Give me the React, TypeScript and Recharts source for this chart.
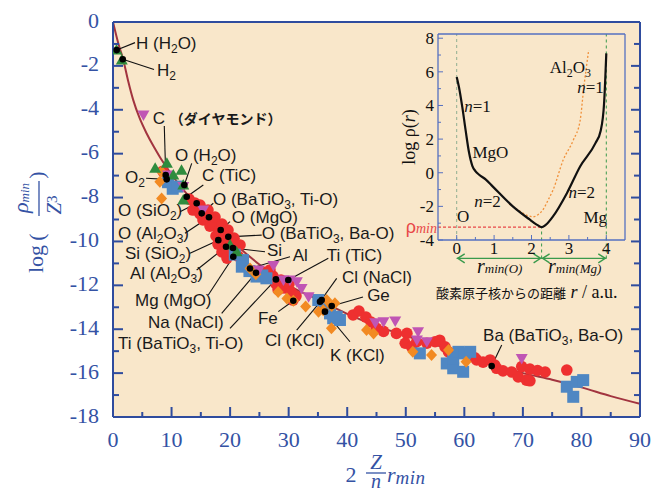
import React from 'react';
import {
  ComposedChart,
  Scatter,
  Line,
  XAxis,
  YAxis,
  CartesianGrid,
  ReferenceLine,
  Customized,
} from 'recharts';

// ---------- style constants ----------
const BLUE = '#3452a4';
const AXIS_BLUE = '#2f4c9e';
const INSET_BLUE = '#5570c0';
const BG = '#f9e7ca';
const RED = '#ee3030';
const SQ_BLUE = '#4f87c3';
const ORANGE = '#f28a22';
const MAGENTA = '#c055b4';
const GREEN = '#2f8c3e';
const ARROW_GREEN = '#3a9a4c';
const CURVE = '#a2343f';
const SERIF = '"Liberation Serif", "Times New Roman", serif';
const SANS = '"Liberation Sans", Arial, Helvetica, sans-serif';
const CJK = '"Noto Sans CJK JP", "Noto Sans CJK SC", sans-serif';

// ---------- main chart data ----------
const xTicks = [0, 5, 10, 15, 20, 25, 30, 35, 40, 45, 50, 55, 60, 65, 70, 75, 80, 85, 90];
const yTicks = [0, -1, -2, -3, -4, -5, -6, -7, -8, -9, -10, -11, -12, -13, -14, -15, -16, -17, -18];

const fitCurve: [number, number][] = [
  [0, 0], [0.9, -0.97], [1.76, -1.73], [2.6, -2.7], [3.46, -3.56], [4.5, -4.35], [5.75, -5.08],
  [7, -5.7], [8, -6.15], [9.1, -6.6], [10, -6.95], [12.5, -7.8], [15, -8.55], [17.5, -9.25],
  [20, -9.9], [22.5, -10.5], [25, -11.05], [27.5, -11.55], [30, -12.0], [35, -12.65],
  [40, -13.3], [45, -13.85], [50, -14.3], [55, -14.7], [60, -15.15], [65, -15.6], [70, -16.0],
  [75, -16.3], [80, -16.65], [85, -17.05], [90, -17.4],
];

const redCircles: [number, number][] = [
  [8.5, -6.8],
  [13.0, -8.07], [13.66, -8.57], [14.0, -8.25], [14.86, -8.34], [14.86, -8.75], [15.37, -9.02],
  [16.05, -8.98], [16.22, -8.57], [16.56, -9.3], [17.08, -9.25], [17.42, -8.89], [17.59, -9.75],
  [18.1, -9.53], [18.44, -9.94], [18.61, -9.21], [18.95, -9.8], [17.93, -10.12], [18.61, -10.48],
  [19.3, -10.35], [19.47, -10.76], [19.64, -9.48], [19.81, -10.07], [20.32, -10.48], [20.66, -9.85],
  [21.35, -10.67], [21.69, -10.16],
  [25.6, -11.39], [26.47, -11.67], [26.8, -11.3], [27.32, -11.58], [27.83, -11.94], [28.2, -12.2],
  [28.69, -11.76], [29.2, -12.12], [30.05, -11.94], [30.4, -12.31], [30.74, -12.67], [31.25, -12.49],
  [41.0, -13.35], [42.0, -13.17], [43.2, -13.45], [44.06, -13.67], [45.0, -13.96], [46.2, -14.1],
  [48.4, -14.19], [50.2, -14.19], [49.9, -14.64], [51.0, -14.8], [51.86, -14.57], [53.6, -14.64],
  [55.0, -14.57], [55.8, -14.5], [56.7, -14.8], [57.3, -15.03], [61.8, -15.3], [62.1, -15.4],
  [63.2, -15.5], [64.4, -15.4], [65.2, -15.63], [65.5, -15.78], [66.6, -15.9], [68.1, -15.95],
  [69.2, -16.17], [70.6, -16.32], [71.2, -16.35], [69.8, -15.7], [71.2, -15.82], [72.5, -15.88],
  [73.8, -15.95], [77.5, -15.86],
];

const blueSquares: [number, number][] = [
  [9.4, -7.3], [10.2, -7.6], [11.0, -7.5],
  [20.8, -10.6], [22.2, -10.85], [22.0, -11.15], [23.3, -11.35], [24.5, -11.6], [25.5, -11.55], [26.2, -11.68],
  [35.06, -12.67], [35.9, -12.98], [37.06, -13.28], [38.2, -13.43], [38.76, -13.58], [37.6, -13.5],
  [52.4, -15.1], [57.0, -15.56], [58.1, -15.78], [59.8, -15.94], [58.1, -15.33], [59.0, -15.03],
  [60.1, -15.1], [61.0, -15.03],
  [77.5, -16.62], [78.6, -17.08], [79.2, -16.4], [80.3, -16.32],
];

const orangeDiamonds: [number, number][] = [
  [8.0, -7.28], [8.3, -6.82], [8.3, -8.04],
  [23.4, -11.23], [24.4, -11.5], [28.2, -12.3], [29.7, -12.6], [30.8, -12.7], [32.9, -12.97],
  [35.1, -13.2], [35.9, -13.13], [36.5, -12.67], [37.35, -12.94], [37.9, -12.82], [37.3, -13.96],
  [43.3, -14.04], [44.5, -14.19], [51.2, -15.03], [54.4, -15.18], [57.3, -14.95], [60.3, -15.48],
];

const magentaTriangles: [number, number][] = [
  [5.2, -4.24], [9.4, -6.97], [12.0, -7.5], [15.4, -8.57],
  [24.9, -11.3], [27.4, -11.1], [29.1, -11.76], [30.2, -11.76], [31.4, -11.84], [32.2, -12.14],
  [33.4, -12.52], [44.8, -13.7], [46.2, -13.66], [48.2, -13.62], [52.1, -14.11], [51.9, -14.49],
  [53.6, -14.57], [69.8, -15.33],
];

const greenTriangles: [number, number][] = [
  [0.6, -1.28], [1.5, -1.73], [7.2, -6.67], [9.2, -6.44], [11.7, -6.75], [10.3, -6.97],
  [12.0, -7.43], [12.0, -8.11], [20.0, -10.16], [21.1, -10.47],
];

// annotations: label text, label anchor (data), leader start (data), marked point (data)
const annotationTexts = [
  'H (H_2O)', 'H_2', 'C （ダイヤモンド）', 'O (H_2O)', 'O_2', 'C (TiC)', 'O (BaTiO_3, Ti-O)',
  'O (SiO_2)', 'O (MgO)', 'O (Al_2O_3)', 'O (BaTiO_3, Ba-O)', 'Si (SiO_2)', 'Si', 'Al',
  'Al (Al_2O_3)', 'Ti (TiC)', 'Mg (MgO)', 'Na (NaCl)', 'Ti (BaTiO_3, Ti-O)', 'Fe', 'Cl (NaCl)',
  'Ge', 'Cl (KCl)', 'K (KCl)', 'Ba (BaTiO_3, Ba-O)',
];
const annotationAt: [number, number][] = [
  [3.93, -0.96], [7.51, -2.19], [6.8, -4.38], [10.59, -6.06], [2.05, -7.06], [15.2, -6.97],
  [17.08, -8.07], [0.85, -8.57], [20.3, -8.89], [0.85, -9.62], [25.4, -9.62], [2.05, -10.53],
  [26.3, -10.39], [30.7, -10.62], [2.9, -11.44], [36.5, -10.62], [3.76, -12.67], [5.98, -13.67],
  [0.85, -14.63], [24.76, -13.49], [39.1, -11.62], [43.4, -12.44], [25.96, -14.49], [37.06, -15.18],
  [63.2, -14.27],
];
const leaderFrom: [number, number][] = [
  [3.76, -0.94], [7.0, -2.16], [8.76, -4.74], [13.44, -6.44], [5.64, -7.12], [15.42, -7.43],
  [17.13, -8.26], [11.44, -8.65], [19.98, -9.1], [12.3, -9.63], [25.39, -9.71], [13.15, -10.54],
  [25.96, -10.47], [30.23, -10.7], [14.29, -11.3], [36.77, -10.77], [16.27, -12.44], [18.56, -13.28],
  [19.98, -13.96], [28.23, -13.2], [38.2, -11.68], [42.69, -12.53], [31.37, -14.04], [40.47, -14.57],
  [66.38, -14.72],
];
const markedPoints: [number, number][] = [
  [0.63, -1.28], [1.66, -1.7], [9.0, -6.97], [12.18, -7.43], [9.17, -7.17], [12.59, -7.96],
  [15.15, -8.72], [14.29, -8.26], [18.39, -9.48], [16.39, -8.9], [19.69, -9.79], [17.98, -9.94],
  [20.49, -10.3], [23.4, -11.23], [19.3, -10.24], [29.94, -11.76], [20.54, -10.7], [24.42, -11.43],
  [27.83, -11.73], [30.79, -12.7], [35.35, -12.75], [37.35, -12.94], [35.64, -12.67], [36.2, -13.2],
  [64.67, -15.68],
];

// ---------- inset data ----------
const insetXTicks = [0, 0.5, 1, 1.5, 2, 2.5, 3, 3.5, 4];
const insetYTicks = [-4, -3, -2, -1, 0, 1, 2, 3, 4, 5, 6, 7, 8];
const mgoCurve: [number, number][] = [
  [0, 5.7], [0.06, 5.1], [0.15, 3.9], [0.24, 2.5], [0.33, 1.2], [0.42, 0.4], [0.5, 0.1],
  [0.6, -0.12], [0.78, -0.41], [0.96, -0.81], [1.5, -2.0], [1.95, -2.78], [2.15, -3.1],
  [2.27, -3.24], [2.38, -3.1], [2.58, -2.58], [2.95, -1.2], [3.3, 0.37], [3.71, 1.76],
  [3.85, 2.5], [3.94, 4.1], [4.0, 7.1],
];
const al2o3Curve: [number, number][] = [
  [1.4, -1.85], [1.7, -2.3], [1.9, -2.55], [2.04, -2.62], [2.2, -2.45], [2.31, -2.19],
  [2.45, -1.6], [2.58, -1.0], [2.85, 0.77], [3.12, 1.95], [3.3, 3.1], [3.4, 5.1], [3.53, 7.3],
];
const rMinO = 2.27;
const logRhoMin = -3.24;
const insetLabelTexts = ['n=1', 'MgO', 'n=2', 'O', 'Al_2O_3', 'n=1', 'n=2', 'Mg'];
const insetLabelAt: [number, number][] = [
  [0.2, 3.96], [0.42, 1.24], [0.47, -1.7], [0.01, -2.6], [2.49, 6.27], [3.22, 5.08], [2.99, -1.12], [3.39, -2.66],
];

// ---------- helpers ----------
const pts = (a: [number, number][]) => a.map(([x, y]) => ({ x, y }));

function RichText(props: any) {
  const { text, x, y, fontSize, fill, fontFamily, subSize, subShift } = props;
  const parts: { t: string; k: string }[] = [];
  const re = /(_\d|（[^）]*）|n(?==))/g;
  let last = 0;
  let m: RegExpExecArray | null;
  while ((m = re.exec(text))) {
    if (m.index > last) parts.push({ t: text.slice(last, m.index), k: 'n' });
    if (m[0].startsWith('_')) parts.push({ t: m[0].slice(1), k: 'sub' });
    else if (m[0] === 'n') parts.push({ t: 'n', k: 'it' });
    else parts.push({ t: m[0], k: 'cjk' });
    last = re.lastIndex;
  }
  if (last < text.length) parts.push({ t: text.slice(last), k: 'n' });
  let shift = 0;
  const spans = parts.map((p, i) => {
    if (p.k === 'sub') {
      const dy = subShift - shift;
      shift = subShift;
      return (
        <tspan key={i} dy={dy} fontSize={subSize}>
          {p.t}
        </tspan>
      );
    }
    const dy = -shift;
    shift = 0;
    if (p.k === 'cjk')
      return (
        <tspan key={i} dy={dy} fontFamily={CJK} fontWeight={700} fontSize={14}>
          {p.t}
        </tspan>
      );
    if (p.k === 'it')
      return (
        <tspan key={i} dy={dy} fontStyle="italic">
          {p.t}
        </tspan>
      );
    return (
      <tspan key={i} dy={dy}>
        {p.t}
      </tspan>
    );
  });
  return (
    <text x={x} y={y} fontSize={fontSize} fill={fill} fontFamily={fontFamily}>
      {spans}
    </text>
  );
}

// ---------- shapes ----------
const redShape = (p: any) => <circle cx={p.cx} cy={p.cy} r={5.8} fill={RED} />;
const blueShape = (p: any) => <rect x={p.cx - 6} y={p.cy - 6} width={12} height={12} fill={SQ_BLUE} />;
const orangeShape = (p: any) => (
  <polygon
    points={`${p.cx},${p.cy - 6} ${p.cx + 5.5},${p.cy} ${p.cx},${p.cy + 6} ${p.cx - 5.5},${p.cy}`}
    fill={ORANGE}
  />
);
const magentaShape = (p: any) => (
  <polygon points={`${p.cx - 6},${p.cy - 4.5} ${p.cx + 6},${p.cy - 4.5} ${p.cx},${p.cy + 6}`} fill={MAGENTA} />
);
const greenShape = (p: any) => (
  <polygon points={`${p.cx - 6},${p.cy + 4.5} ${p.cx + 6},${p.cy + 4.5} ${p.cx},${p.cy - 6}`} fill={GREEN} />
);
const dotShape = (p: any) => <circle cx={p.cx} cy={p.cy} r={3.3} fill="#000" />;
const labelShape = (p: any) => (
  <RichText
    text={p.payload.text}
    x={p.cx}
    y={p.cy + 6}
    fontSize={17}
    fill="#1a1a1a"
    fontFamily={SANS}
    subSize={12}
    subShift={4}
  />
);
const insetLabelShape = (p: any) => (
  <RichText
    text={p.payload.text}
    x={p.cx}
    y={p.cy + 6}
    fontSize={17}
    fill="#111"
    fontFamily={SERIF}
    subSize={12}
    subShift={4}
  />
);

// ---------- ticks ----------
const MainXTick = (p: any) => {
  const v = p.payload.value;
  const major = v % 10 === 0;
  return (
    <g>
      <line x1={p.x} x2={p.x} y1={p.y} y2={p.y - (major ? 10 : 5)} stroke={AXIS_BLUE} strokeWidth={2} />
      {major && (
        <text x={p.x} y={p.y + 29.5} textAnchor="middle" fontFamily={SERIF} fontSize={22} fill={BLUE}>
          {v}
        </text>
      )}
    </g>
  );
};
const MainYTick = (p: any) => {
  const v = p.payload.value;
  const major = v % 2 === 0;
  return (
    <g>
      <line x1={p.x} x2={p.x + (major ? 10 : 6)} y1={p.y} y2={p.y} stroke={AXIS_BLUE} strokeWidth={2} />
      {major && (
        <text x={p.x - 14} y={p.y + 5.5} textAnchor="end" fontFamily={SERIF} fontSize={22} fill={BLUE}>
          {v}
        </text>
      )}
    </g>
  );
};
const MainRightTick = (p: any) => {
  const v = p.payload.value;
  const major = v % 2 === 0;
  return <line x1={p.x} x2={p.x - (major ? 9 : 6)} y1={p.y} y2={p.y} stroke={AXIS_BLUE} strokeWidth={2} />;
};
const InsetXTick = (p: any) => {
  const v = p.payload.value;
  const isInt = Number.isInteger(v);
  return (
    <g>
      <line x1={p.x} x2={p.x} y1={p.y} y2={p.y - (isInt ? 5 : 3)} stroke={INSET_BLUE} strokeWidth={1} />
      {isInt && (
        <text x={p.x} y={p.y + 14} textAnchor="middle" fontFamily={SERIF} fontSize={17} fill="#111">
          {v}
        </text>
      )}
    </g>
  );
};
const InsetYTick = (p: any) => {
  const v = p.payload.value;
  const even = v % 2 === 0;
  return (
    <g>
      <line x1={p.x} x2={p.x + (even ? 5 : 3)} y1={p.y} y2={p.y} stroke={INSET_BLUE} strokeWidth={1} />
      {even && (
        <text x={p.x - 4} y={p.y + 6} textAnchor="end" fontFamily={SERIF} fontSize={17} fill="#111">
          {v}
        </text>
      )}
    </g>
  );
};

const ArrowShape = (p: any) => {
  const { x1, y1, x2, y2 } = p;
  return (
    <g stroke={ARROW_GREEN} strokeWidth={1.4} fill="none">
      <line x1={x1} y1={y1} x2={x2} y2={y2} />
      <polyline points={`${x1 + 8},${y1 - 4.5} ${x1 + 1},${y1} ${x1 + 8},${y1 + 4.5}`} />
      <polyline points={`${x2 - 8},${y2 - 4.5} ${x2 - 1},${y2} ${x2 - 8},${y2 + 4.5}`} />
    </g>
  );
};

// ---------- fixed titles ----------
const MainTitles = () => (
  <g fill={BLUE} fontFamily={SERIF}>
    <text transform="translate(43,259) rotate(-90)" textAnchor="middle" fontSize={22}>
      log
    </text>
    <text transform="translate(44,237) rotate(-90)" textAnchor="middle" fontSize={22}>
      (
    </text>
    <text transform="translate(28,198) rotate(-90)" textAnchor="middle" fontSize={22} fontStyle="italic">
      ρ
      <tspan fontSize={13} dy={1}>
        min
      </tspan>
    </text>
    <line x1={39} y1={181} x2={39} y2={216} stroke={BLUE} strokeWidth={1.3} />
    <text transform="translate(61,205) rotate(-90)" textAnchor="middle" fontSize={21} fontStyle="italic">
      Z
      <tspan fontSize={15} fontStyle="normal" dy={-4}>
        3
      </tspan>
    </text>
    <text transform="translate(44,175) rotate(-90)" textAnchor="middle" fontSize={22}>
      )
    </text>

    <text x={351} y={482} textAnchor="middle" fontSize={22}>
      2
    </text>
    <text x={376} y={469} textAnchor="middle" fontSize={21} fontStyle="italic">
      Z
    </text>
    <line x1={366} x2={386} y1={473} y2={473} stroke={BLUE} strokeWidth={1.3} />
    <text x={376} y={488} textAnchor="middle" fontSize={20} fontStyle="italic">
      n
    </text>
    <text x={387} y={482} fontSize={22} fontStyle="italic">
      r
      <tspan fontSize={19} dy={2} letterSpacing={0.5}>
        min
      </tspan>
    </text>
  </g>
);

const InsetTitles = () => (
  <g fontFamily={SERIF}>
    <text transform="translate(35,117) rotate(-90)" textAnchor="middle" fontSize={18} fill="#111">
      log ρ(<tspan fontStyle="italic">r</tspan>)
    </text>
    <text x={57} y={213} textAnchor="end" fill="#e84848">
      <tspan fontFamily={SANS} fontSize={18}>
        ρ
      </tspan>
      <tspan fontStyle="italic" fontSize={14}>
        min
      </tspan>
    </text>
    <text x={97} y={253} fill="#111" fontStyle="italic">
      <tspan fontSize={20}>r</tspan>
      <tspan fontSize={13}>min(O)</tspan>
    </text>
    <text x={168} y={253} fill="#111" fontStyle="italic">
      <tspan fontSize={20}>r</tspan>
      <tspan fontSize={13}>min(Mg)</tspan>
    </text>
    <text x={56} y={278} fill="#111">
      <tspan fontFamily={CJK} fontSize={13}>
        酸素原子核からの距離
      </tspan>
      <tspan fontSize={18}> </tspan>
      <tspan fontSize={18} fontStyle="italic">
        r
      </tspan>
      <tspan fontSize={18}> / a.u.</tspan>
    </text>
  </g>
);

// ---------- main ----------
export default function App() {
  const labelData = annotationTexts.map((t, i) => ({ x: annotationAt[i][0], y: annotationAt[i][1], text: t }));
  const insetLabelData = insetLabelTexts.map((t, i) => ({ x: insetLabelAt[i][0], y: insetLabelAt[i][1], text: t }));
  return (
    <div style={{ position: 'absolute', left: 0, top: 0, width: 664, height: 495, background: '#fff' }}>
      <ComposedChart
        width={664}
        height={495}
        margin={{ top: 21, right: 23, bottom: 48, left: 53 }}
        style={{ fontFamily: SERIF }}
      >
        <CartesianGrid horizontal={false} vertical={false} fill={BG} stroke="none" />
        <XAxis
          dataKey="x"
          type="number"
          domain={[0, 90]}
          ticks={xTicks}
          interval={0}
          allowDataOverflow
          tickLine={false}
          tickSize={0}
          tickMargin={0}
          height={30}
          axisLine={{ stroke: AXIS_BLUE, strokeWidth: 2 }}
          tick={MainXTick}
        />
        <XAxis
          xAxisId="top"
          orientation="top"
          dataKey="x"
          type="number"
          domain={[0, 90]}
          allowDataOverflow
          tick={false}
          tickLine={false}
          height={1}
          axisLine={{ stroke: AXIS_BLUE, strokeWidth: 2 }}
        />
        <YAxis
          dataKey="y"
          type="number"
          domain={[-18, 0]}
          ticks={yTicks}
          interval={0}
          allowDataOverflow
          tickLine={false}
          tickSize={0}
          tickMargin={0}
          width={60}
          axisLine={{ stroke: AXIS_BLUE, strokeWidth: 2 }}
          tick={MainYTick}
        />
        <YAxis
          yAxisId="right"
          orientation="right"
          dataKey="y"
          type="number"
          domain={[-18, 0]}
          ticks={yTicks}
          interval={0}
          allowDataOverflow
          tickLine={false}
          tickSize={0}
          tickMargin={0}
          width={1}
          axisLine={{ stroke: AXIS_BLUE, strokeWidth: 2 }}
          tick={MainRightTick}
        />
        <Line
          data={pts(fitCurve)}
          dataKey="y"
          type="monotone"
          stroke={CURVE}
          strokeWidth={2}
          dot={false}
          isAnimationActive={false}
        />
        <Scatter data={pts(redCircles)} shape={redShape} isAnimationActive={false} />
        <Scatter data={pts(blueSquares)} shape={blueShape} isAnimationActive={false} />
        <Scatter data={pts(orangeDiamonds)} shape={orangeShape} isAnimationActive={false} />
        <Scatter data={pts(magentaTriangles)} shape={magentaShape} isAnimationActive={false} />
        <Scatter data={pts(greenTriangles)} shape={greenShape} isAnimationActive={false} />
        {leaderFrom.map((f, i) => (
          <ReferenceLine
            key={'ld' + i}
            segment={[
              { x: f[0], y: f[1] },
              { x: markedPoints[i][0], y: markedPoints[i][1] },
            ]}
            stroke="#111"
            strokeWidth={1.1}
            ifOverflow="visible"
          />
        ))}
        <Scatter data={pts(markedPoints)} shape={dotShape} isAnimationActive={false} />
        <Scatter data={labelData} shape={labelShape} isAnimationActive={false} />
        <Customized component={<MainTitles />} />
      </ComposedChart>

      <div style={{ position: 'absolute', left: 380, top: 20 }}>
        <ComposedChart width={260} height={290} margin={{ top: 13, right: 14, bottom: 69, left: 57 }}>
          <XAxis
            dataKey="x"
            type="number"
            domain={[-0.5, 4.5]}
            ticks={insetXTicks}
            interval={0}
            allowDataOverflow
            tickLine={false}
            tickSize={0}
            tickMargin={0}
            height={1}
            axisLine={{ stroke: INSET_BLUE, strokeWidth: 1.3 }}
            tick={InsetXTick}
          />
          <XAxis
            xAxisId="top"
            orientation="top"
            dataKey="x"
            type="number"
            domain={[-0.5, 4.5]}
            allowDataOverflow
            tick={false}
            tickLine={false}
            height={1}
            axisLine={{ stroke: INSET_BLUE, strokeWidth: 1.3 }}
          />
          <YAxis
            dataKey="y"
            type="number"
            domain={[-4, 8.25]}
            ticks={insetYTicks}
            interval={0}
            allowDataOverflow
            tickLine={false}
            tickSize={0}
            tickMargin={0}
            width={1}
            axisLine={{ stroke: INSET_BLUE, strokeWidth: 1.3 }}
            tick={InsetYTick}
          />
          <YAxis
            yAxisId="right"
            orientation="right"
            dataKey="y"
            type="number"
            domain={[-4, 8.25]}
            allowDataOverflow
            tick={false}
            tickLine={false}
            width={1}
            axisLine={{ stroke: INSET_BLUE, strokeWidth: 1.3 }}
          />
          <ReferenceLine
            segment={[
              { x: 0, y: -4 },
              { x: 0, y: 8.25 },
            ]}
            stroke="#8fae92"
            strokeDasharray="3 3"
            strokeWidth={1}
            ifOverflow="visible"
          />
          <ReferenceLine
            segment={[
              { x: 4, y: -5.1 },
              { x: 4, y: 8.25 },
            ]}
            stroke={ARROW_GREEN}
            strokeDasharray="3 3"
            strokeWidth={1}
            ifOverflow="visible"
          />
          <ReferenceLine
            segment={[
              { x: rMinO, y: -5.1 },
              { x: rMinO, y: logRhoMin },
            ]}
            stroke={ARROW_GREEN}
            strokeDasharray="3 3"
            strokeWidth={1}
            ifOverflow="visible"
          />
          <ReferenceLine
            segment={[
              { x: -0.5, y: logRhoMin },
              { x: rMinO, y: logRhoMin },
            ]}
            stroke="#e84848"
            strokeDasharray="3 2"
            strokeWidth={1.2}
            ifOverflow="visible"
          />
          <ReferenceLine
            segment={[
              { x: 0, y: -5.09 },
              { x: rMinO, y: -5.09 },
            ]}
            shape={ArrowShape}
            ifOverflow="visible"
          />
          <ReferenceLine
            segment={[
              { x: rMinO, y: -5.09 },
              { x: 4, y: -5.09 },
            ]}
            shape={ArrowShape}
            ifOverflow="visible"
          />
          <Line
            data={pts(al2o3Curve)}
            dataKey="y"
            type="monotone"
            stroke="#f0903a"
            strokeWidth={1.3}
            strokeDasharray="2 2"
            dot={false}
            isAnimationActive={false}
          />
          <Line
            data={pts(mgoCurve)}
            dataKey="y"
            type="monotone"
            stroke="#111"
            strokeWidth={2.2}
            dot={false}
            isAnimationActive={false}
          />
          <Scatter data={insetLabelData} shape={insetLabelShape} isAnimationActive={false} />
          <Customized component={<InsetTitles />} />
        </ComposedChart>
      </div>
    </div>
  );
}
